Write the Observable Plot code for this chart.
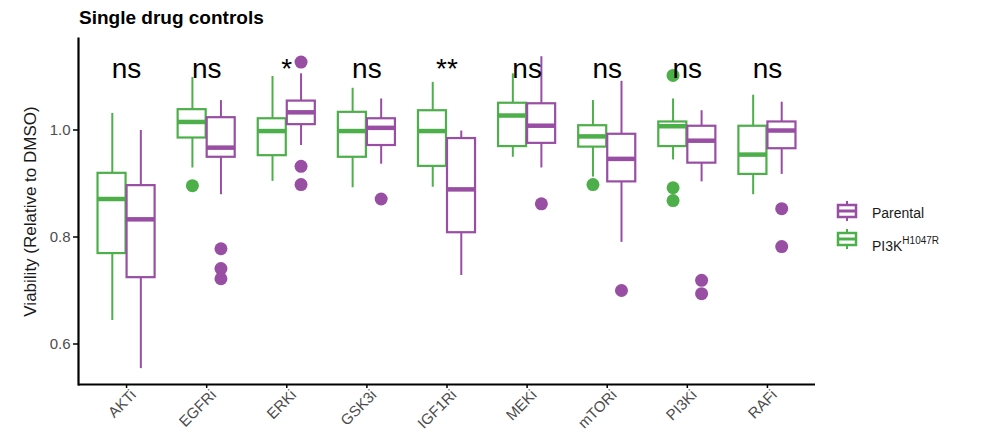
<!DOCTYPE html>
<html>
<head>
<meta charset="utf-8">
<script src="https://cdn.jsdelivr.net/npm/d3@7"></script>
<script src="https://cdn.jsdelivr.net/npm/@observablehq/plot@0.6"></script>
<style>
  html, body { margin: 0; padding: 0; background: #fff; }
  #wrap { position: relative; width: 986px; height: 444px; font-family: "Liberation Sans", Arial, Helvetica, sans-serif; }
  #title { position: absolute; left: 79px; top: 8px; font-size: 19px; line-height: 19px; font-weight: bold; color: #000; }
  .leg { position: absolute; font-size: 14px; line-height: 14px; color: #1a1a1a; }
  .leg sup { font-size: 10px; position: relative; top: -1px; }
  .icon { position: absolute; }
</style>
</head>
<body>
<div id="wrap">
  <div id="chart"></div>
  <div id="title">Single drug controls</div>
  <svg class="icon" style="left:835px;top:201px" width="24" height="20">
    <line x1="12" x2="12" y1="0" y2="20" stroke="#984EA3" stroke-width="2"/>
    <rect x="3" y="4" width="18" height="12" fill="#fff" stroke="#984EA3" stroke-width="2.5"/>
    <line x1="3" x2="21" y1="10" y2="10" stroke="#984EA3" stroke-width="3"/>
  </svg>
  <div class="leg" style="left:872px;top:206px">Parental</div>
  <svg class="icon" style="left:835px;top:229px" width="24" height="20">
    <line x1="12" x2="12" y1="0" y2="20" stroke="#4DAF4A" stroke-width="2"/>
    <rect x="3" y="4" width="18" height="12" fill="#fff" stroke="#4DAF4A" stroke-width="2.5"/>
    <line x1="3" x2="21" y1="10" y2="10" stroke="#4DAF4A" stroke-width="3"/>
  </svg>
  <div class="leg" style="left:872px;top:235px">PI3K<sup>H1047R</sup></div>
</div>
<script>
// ---------- data ----------
const drugs = ["AKTi", "EGFRi", "ERKi", "GSK3i", "IGF1Ri", "MEKi", "mTORi", "PI3Ki", "RAFi"];
const significance = ["ns", "ns", "*", "ns", "**", "ns", "ns", "ns", "ns"];
const yTicks = [0.6, 0.8, 1.0];

// PI3K H1047R (green)
const pi3kLower  = [0.644, 0.929, 0.904, 0.892, 0.893, 0.949, 0.912, 0.944, 0.879];
const pi3kQ1     = [0.769, 0.985, 0.952, 0.949, 0.932, 0.969, 0.968, 0.969, 0.917];
const pi3kMedian = [0.871, 1.015, 0.998, 0.998, 0.998, 1.027, 0.988, 1.007, 0.954];
const pi3kQ3     = [0.919, 1.038, 1.021, 1.033, 1.036, 1.050, 1.008, 1.015, 1.007];
const pi3kUpper  = [1.031, 1.098, 1.100, 1.078, 1.089, 1.105, 1.055, 1.058, 1.065];
const pi3kOutlierDrug  = ["EGFRi", "mTORi", "PI3Ki", "PI3Ki", "PI3Ki"];
const pi3kOutlierValue = [0.896, 0.898, 1.102, 0.892, 0.868];

// Parental (purple)
const parLower  = [0.554, 0.879, 0.971, 0.936, 0.728, 0.929, 0.790, 0.903, 0.917];
const parQ1     = [0.724, 0.949, 1.010, 0.971, 0.808, 0.975, 0.903, 0.938, 0.965];
const parMedian = [0.833, 0.967, 1.033, 1.004, 0.889, 1.008, 0.946, 0.980, 0.999];
const parQ3     = [0.896, 1.023, 1.054, 1.021, 0.984, 1.049, 0.992, 1.007, 1.015];
const parUpper  = [0.999, 1.055, 1.105, 1.058, 0.998, 1.137, 1.091, 1.036, 1.052];
const parOutlierDrug  = ["EGFRi", "EGFRi", "EGFRi", "ERKi", "ERKi", "ERKi", "GSK3i", "MEKi", "mTORi", "PI3Ki", "PI3Ki", "RAFi", "RAFi"];
const parOutlierValue = [0.778, 0.741, 0.722, 1.127, 0.932, 0.898, 0.871, 0.862, 0.700, 0.719, 0.694, 0.853, 0.782];

// ---------- layout / style ----------
const W = 986, H = 444;
const mL = 78, mR = 171, mT = 38, mB = 60;
const yDomain = [0.5243, 1.171];
const labelY = 1.098;
const pInner = 0.2875, pOuter = 0.24375;
const step = (W - mL - mR) / (drugs.length - pInner + 2 * pOuter);
const half = step * (1 - pInner) / 2;
const GREEN = "#4DAF4A", PURPLE = "#984EA3";

const groups = [
  {color: GREEN, side: -1, lower: pi3kLower, q1: pi3kQ1, med: pi3kMedian, q3: pi3kQ3, upper: pi3kUpper, od: pi3kOutlierDrug, ov: pi3kOutlierValue},
  {color: PURPLE, side: 1, lower: parLower, q1: parQ1, med: parMedian, q3: parQ3, upper: parUpper, od: parOutlierDrug, ov: parOutlierValue}
];

const marks = [];
for (const g of groups) {
  const rows = drugs.map((d, i) => ({drug: d, lower: g.lower[i], q1: g.q1[i], median: g.med[i], q3: g.q3[i], upper: g.upper[i]}));
  const outs = g.od.map((d, i) => ({drug: d, value: g.ov[i]}));
  const inset = g.side < 0 ? {insetRight: half + 0.5, insetLeft: 0} : {insetLeft: half + 0.5, insetRight: 0};
  marks.push(
    Plot.ruleX(rows, {x: "drug", y1: "lower", y2: "upper", stroke: g.color, strokeWidth: 2, dx: g.side * half / 2}),
    Plot.barY(rows, {x: "drug", y1: "q1", y2: "q3", fill: "white", stroke: g.color, strokeWidth: 2.2, ...inset}),
    Plot.tickY(rows, {x: "drug", y: "median", stroke: g.color, strokeWidth: 4.5, ...inset}),
    Plot.dot(outs, {x: "drug", y: "value", fill: g.color, r: 6.5, dx: g.side * half / 2})
  );
}

const sigRows = drugs.map((d, i) => ({drug: d, label: significance[i]}));

const chart = Plot.plot({
  width: W, height: H,
  marginLeft: mL, marginRight: mR, marginTop: mT, marginBottom: mB,
  style: {fontFamily: "'Liberation Sans', Arial, Helvetica, sans-serif", background: "white", overflow: "visible"},
  x: {type: "band", domain: drugs, paddingInner: pInner, paddingOuter: pOuter, round: false},
  y: {domain: yDomain, round: false},
  marks: [
    ...marks,
    Plot.text(sigRows, {x: "drug", y: () => labelY, text: "label", fontSize: 28, fill: "black", lineAnchor: "bottom"}),
    Plot.axisY({ticks: yTicks, tickFormat: d3.format(".1f"), tickSize: 5, tickPadding: 3, fontSize: 15, fill: "#4d4d4d", stroke: "black", strokeWidth: 1.5, label: null}),
    Plot.axisX({tickSize: 4, tickFormat: () => "", stroke: "black", strokeWidth: 1.5, label: null}),
    Plot.axisX({tickSize: 0, tickRotate: -45, tickPadding: 8, dx: 7, fontSize: 15, fill: "#4d4d4d", label: null}),
    Plot.text(["Viability (Relative to DMSO)"], {frameAnchor: "left", rotate: -90, dx: -48, textAnchor: "middle", fontSize: 17, fill: "#1a1a1a"}),
    Plot.ruleY([yDomain[0]], {stroke: "black", strokeWidth: 2.2}),
    Plot.frame({anchor: "left", stroke: "black", strokeWidth: 2.2})
  ]
});
document.getElementById("chart").appendChild(chart);
</script>
</body>
</html>
